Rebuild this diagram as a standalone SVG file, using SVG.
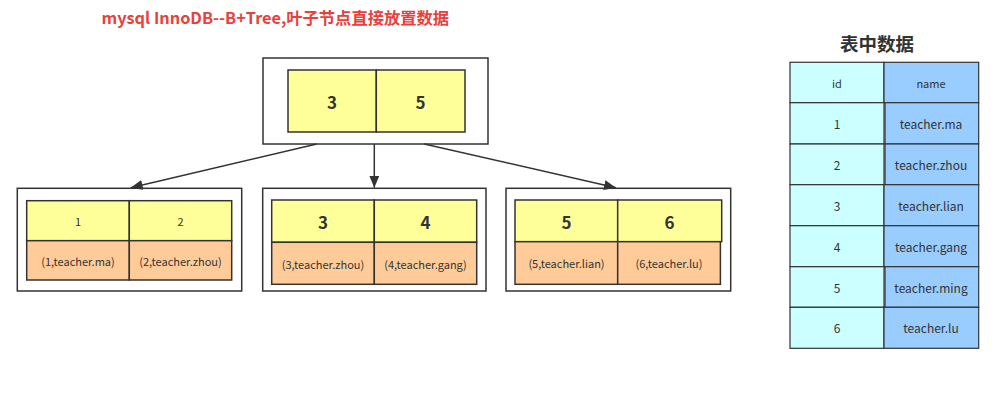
<svg xmlns="http://www.w3.org/2000/svg" width="999" height="403" viewBox="0 0 999 403">
<defs>
<marker id="arr" viewBox="0 0 12 10" refX="12" refY="5" markerWidth="12" markerHeight="10" markerUnits="userSpaceOnUse" orient="auto">
<path d="M0,0 L12,5 L0,10 Z" fill="#333"/>
</marker>
</defs>
<style>
text{font-family:"Noto Sans CJK SC","Open Sans","Noto Sans",sans-serif;fill:#333;text-anchor:middle;dominant-baseline:central}
.outer{fill:#fff;stroke:#333;stroke-width:1.5}
.key{fill:#ffff99;stroke:#333;stroke-width:1.5}
.val{fill:#ffcc99;stroke:#333;stroke-width:1.5}
.idc{fill:#ccffff;stroke:#333;stroke-width:1.2}
.nmc{fill:#99ccff;stroke:#333;stroke-width:1.2}
.big{font-size:17px;font-weight:bold}
.sm{font-size:11px}
.dt{font-size:11px}
.tb{font-size:12px}
.conn{stroke:#333;stroke-width:1.5;fill:none}
</style>
<rect width="999" height="403" fill="#fff"/>
<text x="275.3" y="17" style="font-size:16.3px;font-weight:bold;fill:#e8403c">mysql InnoDB--B+Tree,叶子节点直接放置数据</text>

<g id="root">
<rect class="outer" x="263" y="58" width="225" height="86"/>
<rect class="key" x="288" y="70" width="88.3" height="62"/>
<rect class="key" x="376.3" y="70" width="88.7" height="62"/>
<text class="big" x="332" y="101">3</text>
<text class="big" x="420.5" y="101">5</text>
</g>

<g id="leaf1">
<rect class="outer" x="17.3" y="188.3" width="224.4" height="102.7"/>
<rect class="key" x="26.7" y="200.7" width="102.6" height="40"/>
<rect class="key" x="129.3" y="200.7" width="102.4" height="40"/>
<rect class="val" x="26.7" y="240.7" width="102.6" height="39.3"/>
<rect class="val" x="129.3" y="240.7" width="102.4" height="39.3"/>
<text class="sm" x="78" y="221">1</text>
<text class="sm" x="180.5" y="221">2</text>
<text class="dt" x="78" y="260.5">(1,teacher.ma)</text>
<text class="dt" x="180.5" y="260.5">(2,teacher.zhou)</text>
</g>

<g id="leaf2">
<rect class="outer" x="262.7" y="188.3" width="223.3" height="102.7"/>
<rect class="key" x="271.7" y="200" width="102.6" height="42.3"/>
<rect class="key" x="374.3" y="200" width="102.4" height="42.3"/>
<rect class="val" x="271.7" y="242.3" width="102.6" height="42"/>
<rect class="val" x="374.3" y="242.3" width="102.4" height="42"/>
<text class="big" x="323" y="221.5">3</text>
<text class="big" x="425.5" y="221.5">4</text>
<text class="dt" x="323" y="263.5">(3,teacher.zhou)</text>
<text class="dt" x="425.5" y="263.5">(4,teacher.gang)</text>
</g>

<g id="leaf3">
<rect class="outer" x="506" y="188.3" width="224.7" height="102.7"/>
<rect class="key" x="515" y="200" width="102.7" height="41.7"/>
<rect class="key" x="617.7" y="200" width="104" height="41.7"/>
<rect class="val" x="515" y="241.7" width="102.7" height="42.6"/>
<rect class="val" x="617.7" y="241.7" width="102.7" height="42.6"/>
<text class="big" x="566.5" y="221">5</text>
<text class="big" x="669.5" y="221">6</text>
<text class="dt" x="566.5" y="263">(5,teacher.lian)</text>
<text class="dt" x="669" y="263">(6,teacher.lu)</text>
</g>

<g id="connectors">
<line class="conn" x1="316.7" y1="144" x2="130.7" y2="187.7" marker-end="url(#arr)"/>
<line class="conn" x1="374.3" y1="144" x2="374.3" y2="187.7" marker-end="url(#arr)"/>
<line class="conn" x1="424.3" y1="144" x2="616" y2="187.7" marker-end="url(#arr)"/>
</g>

<g id="table">
<text x="877" y="43" style="font-size:18.5px;font-weight:bold">表中数据</text>
<rect class="idc" x="790" y="62.3" width="94" height="40.4"/>
<rect class="nmc" x="884" y="62.3" width="94.7" height="40.4"/>
<text class="sm" x="837" y="83">id</text>
<text class="sm" x="931" y="83">name</text>
<rect class="idc" x="790" y="102.7" width="94" height="41.3"/>
<rect class="nmc" x="885" y="102.7" width="93.7" height="41.3"/>
<text class="tb" x="837" y="123.5">1</text>
<text class="tb" x="931" y="123.5">teacher.ma</text>
<rect class="idc" x="790" y="144" width="94" height="40.7"/>
<rect class="nmc" x="885" y="144" width="93.7" height="40.7"/>
<text class="tb" x="837" y="164.5">2</text>
<text class="tb" x="931" y="164.5">teacher.zhou</text>
<rect class="idc" x="790" y="184.7" width="94" height="41"/>
<rect class="nmc" x="884" y="184.7" width="94.7" height="41"/>
<text class="tb" x="837" y="205.5">3</text>
<text class="tb" x="931" y="205.5">teacher.lian</text>
<rect class="idc" x="790" y="225.7" width="94" height="41"/>
<rect class="nmc" x="884" y="225.7" width="94.7" height="41"/>
<text class="tb" x="837" y="246">4</text>
<text class="tb" x="931" y="246">teacher.gang</text>
<rect class="idc" x="790" y="266.7" width="94" height="40.6"/>
<rect class="nmc" x="885" y="266.7" width="93.7" height="40.6"/>
<text class="tb" x="837" y="287">5</text>
<text class="tb" x="931" y="287">teacher.ming</text>
<rect class="idc" x="790" y="307.3" width="94" height="41"/>
<rect class="nmc" x="884" y="307.3" width="94.7" height="41"/>
<text class="tb" x="837" y="327.5">6</text>
<text class="tb" x="931" y="327.5">teacher.lu</text>
</g>
</svg>
